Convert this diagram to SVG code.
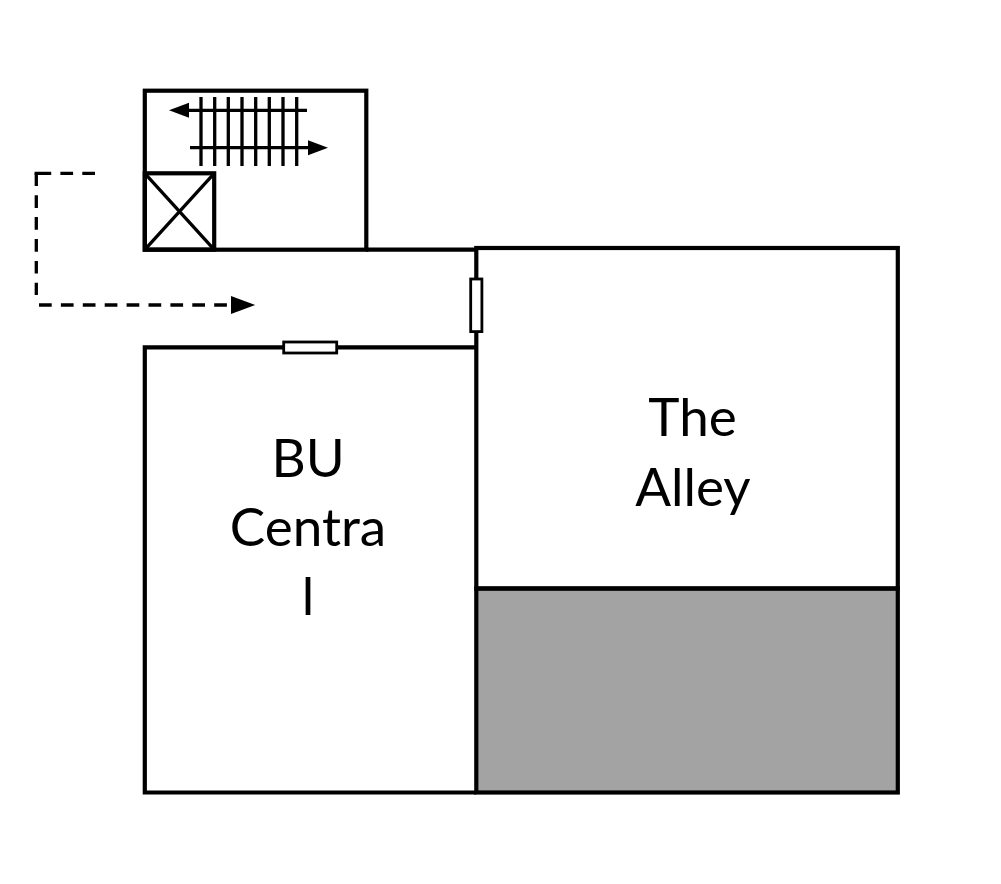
<svg xmlns="http://www.w3.org/2000/svg" width="1001" height="884" viewBox="0 0 1001 884">
<style>
.w{fill:none;stroke:#000;stroke-width:4.200}
.t{stroke:#000;stroke-width:3.300;fill:none}
.d{fill:#fff;stroke:#000;stroke-width:2.800}
.c{fill:none;stroke:#000;stroke-width:3.300;stroke-dasharray:12.700 9.200}
text{font-family:Lato,"Open Sans","Liberation Sans",sans-serif;font-size:53px;fill:#000;text-anchor:middle}
</style>
<defs>
<marker id="a" markerUnits="userSpaceOnUse" markerWidth="21" markerHeight="16" refX="2" refY="8" orient="auto"><path d="M0 .5L20 8L0 15.500Z" fill="#000"/></marker>
<marker id="b" markerUnits="userSpaceOnUse" markerWidth="25" markerHeight="20" refX="2" refY="10" orient="auto"><path d="M0 1L24.500 10L0 19Z" fill="#000"/></marker>
</defs>
<rect width="1001" height="884" fill="#fff"/>
<g id="stair-room"><rect class="w" x="144.800" y="90.700" width="221.500" height="159"/>
<path class="t" d="M201 97V166M214.700 97V166M228.300 97V166M242 97V166M255.700 97V166M269.300 97V166M283 97V166M296.700 97V166"/>
<path class="t" d="M307 110.300H187" marker-end="url(#a)"/><path class="t" d="M190 147.700H310" marker-end="url(#a)"/></g>
<g id="lift"><rect class="w" x="144.800" y="173.300" width="69.400" height="76.300"/><path class="t" d="M144.800 173.300L214.200 249.600M214.200 173.300L144.800 249.600"/></g>
<g id="corridor"><path class="w" d="M366 249.600H476.300"/></g>
<g id="bu-central"><path class="w" d="M476.300 347.300H144.800V792.500H476.300"/>
<text x="308" y="477">BU</text><text x="308" y="546">Centra</text><text x="308" y="615">l</text></g>
<g id="the-alley"><rect x="476.300" y="588.500" width="421.500" height="204" fill="#a3a3a3" stroke="#000" stroke-width="4.200"/>
<rect class="w" x="476.300" y="248" width="421.500" height="340.500"/>
<text x="692.500" y="436">The</text><text x="693" y="506">Alley</text></g>
<g id="door-1"><rect class="d" x="283.700" y="342" width="53" height="11"/></g>
<g id="door-2"><rect class="d" x="470.700" y="279" width="11.200" height="52.600"/></g>
<g id="connectors"><path class="c" style="stroke-dasharray:12.700 9.200 12.700 9.200 16.600 100" d="M95 173.300H34.600"/><path class="c" d="M36.300 173.300V295"/><path class="c" d="M39 305H232.700" marker-end="url(#b)"/></g>
</svg>
